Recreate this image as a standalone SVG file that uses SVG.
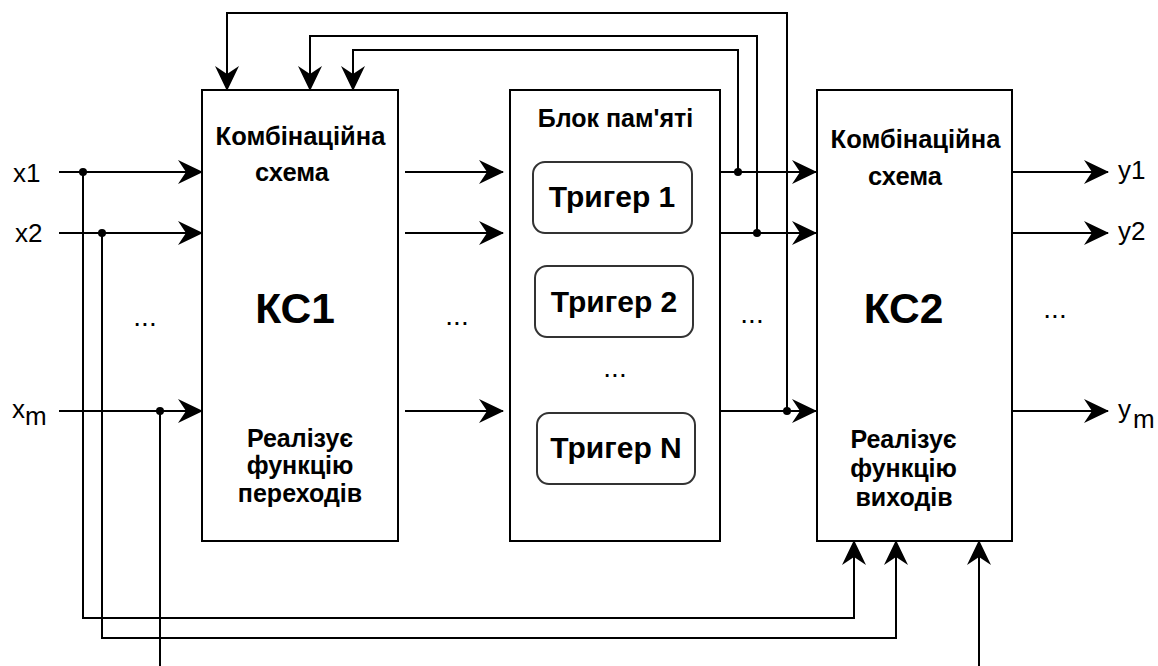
<svg xmlns="http://www.w3.org/2000/svg" width="1158" height="666" viewBox="0 0 1158 666">
<style>
.box{fill:#fff;stroke:#000;stroke-width:2}
.trig{fill:#fff;stroke:#333;stroke-width:2}
.b{font-family:"Liberation Sans",Arial,sans-serif;font-weight:bold;fill:#000;text-anchor:middle}
.r{font-family:"Liberation Sans",Arial,sans-serif;fill:#000}
.w{fill:none;stroke:#000;stroke-width:2}
.a{marker-end:url(#arr)}
.dot{fill:#000}
</style>
<defs>
<marker id="arr" markerUnits="userSpaceOnUse" markerWidth="28" markerHeight="28" viewBox="0 0 28 28" refX="25" refY="13" orient="auto">
<path d="M26,13 L1,1 L9,13 L1,25 Z" fill="#000"/>
</marker>
</defs>
<rect width="1158" height="666" fill="#fff"/>

<g id="connectors">
<path class="w a" d="M59,172 H202"/>
<path class="w a" d="M59,233 H202"/>
<path class="w a" d="M59,411 H202"/>
<path class="w a" d="M405,172 H503"/>
<path class="w a" d="M405,233 H503"/>
<path class="w a" d="M405,411 H503"/>
<path class="w a" d="M720,172 H816"/>
<path class="w a" d="M720,233 H816"/>
<path class="w a" d="M720,411 H816"/>
<path class="w a" d="M1012,172 H1108"/>
<path class="w a" d="M1012,233 H1108"/>
<path class="w a" d="M1012,411 H1108"/>
<path class="w a" d="M738,172 V50 H353 V90"/>
<path class="w a" d="M757,233 V36 H310 V90"/>
<path class="w a" d="M787,411 V13 H227 V90"/>
<path class="w a" d="M83,172 V618 H854 V541"/>
<path class="w a" d="M102,233 V638 H896 V541"/>
<path class="w" d="M160,411 V666"/>
<path class="w a" d="M979,666 V541"/>
<circle class="dot" cx="83" cy="172" r="4"/>
<circle class="dot" cx="102" cy="233" r="4"/>
<circle class="dot" cx="160" cy="411" r="4"/>
<circle class="dot" cx="738" cy="172" r="4"/>
<circle class="dot" cx="757" cy="233" r="4"/>
<circle class="dot" cx="787" cy="411" r="4"/>
</g>

<g id="kc1">
<rect class="box" x="202" y="90" width="196" height="451"/>
<text class="b" x="300.5" y="145" font-size="25.5">Комбінаційна</text>
<text class="b" x="292" y="181" font-size="25.5">схема</text>
<text class="b" x="295" y="323" font-size="42.5">КС1</text>
<text class="b" x="300" y="447" font-size="25">Реалізує</text>
<text class="b" x="300" y="474" font-size="25">функцію</text>
<text class="b" x="300" y="502" font-size="25">переходів</text>
</g>

<g id="memory">
<rect class="box" x="510" y="90" width="210" height="451"/>
<text class="b" x="615.5" y="127" font-size="25">Блок пам'яті</text>
<text class="r" x="615" y="377" font-size="28" text-anchor="middle">...</text>
</g>
<g id="trigger1">
<rect class="trig" x="533" y="162" width="159" height="71" rx="12"/>
<text class="b" x="612" y="207" font-size="30">Тригер 1</text>
</g>
<g id="trigger2">
<rect class="trig" x="535" y="266" width="158" height="71" rx="12"/>
<text class="b" x="614" y="312" font-size="30">Тригер 2</text>
</g>
<g id="triggerN">
<rect class="trig" x="537" y="413" width="158" height="71" rx="12"/>
<text class="b" x="616" y="458" font-size="30">Тригер N</text>
</g>

<g id="kc2">
<rect class="box" x="817" y="90" width="195" height="451"/>
<text class="b" x="915.5" y="148" font-size="25.5">Комбінаційна</text>
<text class="b" x="905" y="185" font-size="25.5">схема</text>
<text class="b" x="903.5" y="323" font-size="42.5">КС2</text>
<text class="b" x="903.5" y="448" font-size="25">Реалізує</text>
<text class="b" x="903.5" y="477" font-size="25">функцію</text>
<text class="b" x="904" y="506" font-size="25">виходів</text>
</g>

<g id="labels">
<text class="r" x="13" y="181.5" font-size="26">x1</text>
<text class="r" x="15" y="241.5" font-size="26">x2</text>
<text class="r" x="12" y="418" font-size="26">x<tspan dy="7">m</tspan></text>
<text class="r" x="1118" y="179" font-size="26">y1</text>
<text class="r" x="1118" y="240" font-size="26">y2</text>
<text class="r" x="1118" y="418" font-size="26">y<tspan dx="2" dy="10">m</tspan></text>
<text class="r" x="145" y="326" font-size="28" text-anchor="middle">...</text>
<text class="r" x="457" y="325" font-size="28" text-anchor="middle">...</text>
<text class="r" x="752" y="323" font-size="28" text-anchor="middle">...</text>
<text class="r" x="1055" y="318" font-size="28" text-anchor="middle">...</text>
</g>
</svg>
